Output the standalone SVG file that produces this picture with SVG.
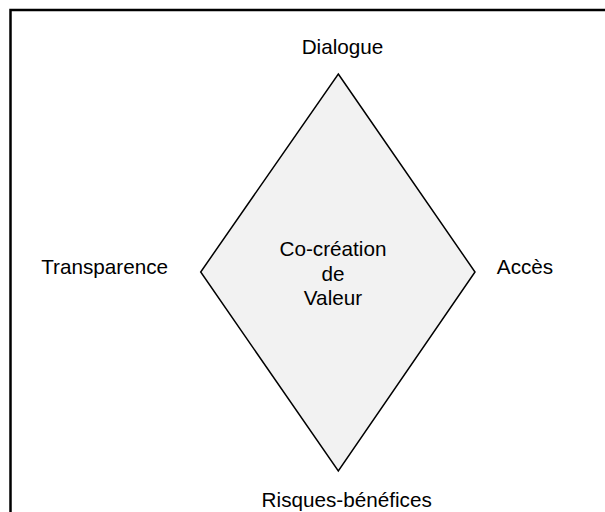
<svg xmlns="http://www.w3.org/2000/svg" width="605" height="512" viewBox="0 0 605 512">
<style>
text{font-family:"Liberation Sans",Arial,sans-serif;font-size:20.7px;fill:#000;text-anchor:middle}
.frame{fill:#fff;stroke:#000;stroke-width:2.5}
.dia{fill:#f2f2f2;stroke:#000;stroke-width:1.5;stroke-linejoin:miter}
</style>
<rect class="frame" x="10.5" y="10" width="600" height="520"/>
<g id="connectors"></g>
<g id="center">
<polygon class="dia" points="338.3,74 475,272 338.3,471 200.7,272"/>
<text x="333" y="256">Co-création</text>
<text x="333" y="280.5">de</text>
<text x="333" y="305">Valeur</text>
</g>
<g id="dialogue"><text x="342.5" y="54">Dialogue</text></g>
<g id="transparence"><text x="104.7" y="274.3">Transparence</text></g>
<g id="acces"><text x="525" y="273.5">Accès</text></g>
<g id="risques"><text x="346.7" y="506.5">Risques-bénéfices</text></g>
</svg>
